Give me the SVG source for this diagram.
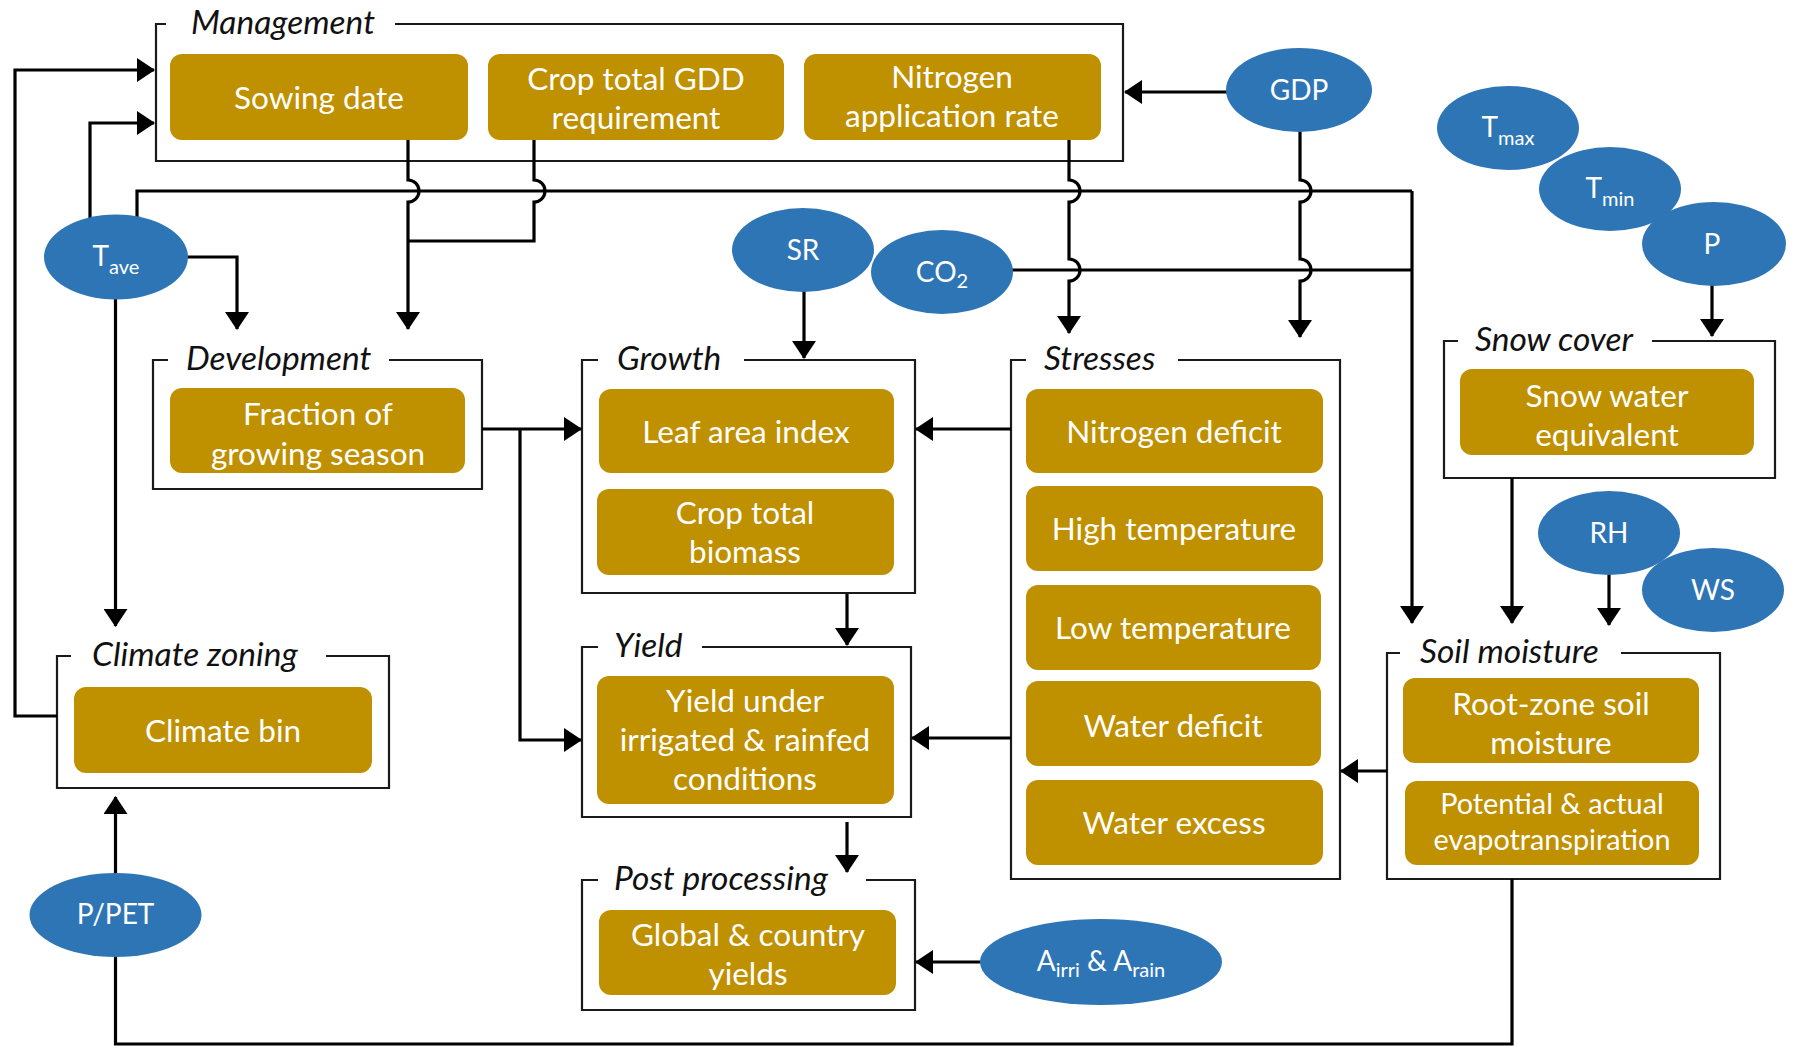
<svg xmlns="http://www.w3.org/2000/svg" width="1793" height="1046" viewBox="0 0 1793 1046">
<defs>
<marker id="ah" viewBox="0 0 18 24" markerWidth="18" markerHeight="24" refX="17" refY="12" orient="auto" markerUnits="userSpaceOnUse">
<path d="M0,0 L18,12 L0,24 z" fill="#000"/>
</marker>
<style>
.grp{fill:none;stroke:#1a1a1a;stroke-width:2.2}
.ttl{font-family:Lato,"Open Sans",sans-serif;font-style:italic;font-size:33.5px;fill:#111}
.box{fill:#BF9000}
.bt{font-family:Lato,"Open Sans",sans-serif;font-size:31.5px;fill:#fff;text-anchor:middle}
.bts{font-family:Lato,"Open Sans",sans-serif;font-size:28.8px;fill:#fff;text-anchor:middle}
.ell{fill:#2E75B6}
.et{font-family:Lato,"Open Sans",sans-serif;font-size:28px;fill:#fff;text-anchor:middle}
.sub{font-size:20px}
.con path{fill:none;stroke:#000;stroke-width:3.2;marker-end:url(#ah)}
.con path.nm{marker-end:none}
</style>
</defs>
<rect width="1793" height="1046" fill="#fff"/>

<!-- Group containers -->
<g id="management">
<path class="grp" d="M395,24 H1123 V161 H156 V24 H166"/>
<text class="ttl" x="191" y="34">Management</text>
<rect class="box" x="170" y="54" width="298" height="86" rx="12"/>
<text class="bt" x="319" y="109">Sowing date</text>
<rect class="box" x="488" y="54" width="296" height="86" rx="12"/>
<text class="bt" x="636" y="90">Crop total GDD</text>
<text class="bt" x="636" y="129">requirement</text>
<rect class="box" x="804" y="54" width="297" height="86" rx="12"/>
<text class="bt" x="952" y="88">Nitrogen</text>
<text class="bt" x="952" y="127">application rate</text>
</g>

<g id="development">
<path class="grp" d="M389,360 H482 V489 H153 V360 H168"/>
<text class="ttl" x="186" y="370">Development</text>
<rect class="box" x="170" y="388" width="295" height="85" rx="12"/>
<text class="bt" x="318" y="425">Fraction of</text>
<text class="bt" x="318" y="465">growing season</text>
</g>

<g id="climate-zoning">
<path class="grp" d="M326,656 H389 V788 H57 V656 H71"/>
<text class="ttl" x="92" y="666">Climate zoning</text>
<rect class="box" x="74" y="687" width="298" height="86" rx="12"/>
<text class="bt" x="223" y="742">Climate bin</text>
</g>

<g id="growth">
<path class="grp" d="M744,360 H915 V593 H582 V360 H598"/>
<text class="ttl" x="617" y="370">Growth</text>
<rect class="box" x="599" y="389" width="295" height="84" rx="12"/>
<text class="bt" x="746" y="443">Leaf area index</text>
<rect class="box" x="597" y="489" width="297" height="86" rx="12"/>
<text class="bt" x="745" y="524">Crop total</text>
<text class="bt" x="745" y="563">biomass</text>
</g>

<g id="yield">
<path class="grp" d="M702,647 H911 V817 H582 V647 H598"/>
<text class="ttl" x="614" y="657">Yield</text>
<rect class="box" x="597" y="676" width="297" height="128" rx="12"/>
<text class="bt" x="745" y="712">Yield under</text>
<text class="bt" x="745" y="751">irrigated &amp; rainfed</text>
<text class="bt" x="745" y="790">conditions</text>
</g>

<g id="post-processing">
<path class="grp" d="M866,880 H915 V1010 H582 V880 H598"/>
<text class="ttl" x="614" y="890">Post processing</text>
<rect class="box" x="599" y="910" width="297" height="85" rx="12"/>
<text class="bt" x="748" y="946">Global &amp; country</text>
<text class="bt" x="748" y="985">yields</text>
</g>

<g id="stresses">
<path class="grp" d="M1178,360 H1340 V879 H1011 V360 H1026"/>
<text class="ttl" x="1044" y="370">Stresses</text>
<rect class="box" x="1026" y="389" width="297" height="84" rx="12"/>
<text class="bt" x="1174" y="443">Nitrogen deficit</text>
<rect class="box" x="1026" y="486" width="297" height="85" rx="12"/>
<text class="bt" x="1174" y="540">High temperature</text>
<rect class="box" x="1026" y="585" width="295" height="85" rx="12"/>
<text class="bt" x="1173" y="639">Low temperature</text>
<rect class="box" x="1026" y="681" width="295" height="85" rx="12"/>
<text class="bt" x="1173" y="737">Water deficit</text>
<rect class="box" x="1026" y="780" width="297" height="85" rx="12"/>
<text class="bt" x="1174" y="834">Water excess</text>
</g>

<g id="snow-cover">
<path class="grp" d="M1652,341 H1775 V478 H1444 V341 H1458"/>
<text class="ttl" x="1475" y="351">Snow cover</text>
<rect class="box" x="1460" y="369" width="294" height="86" rx="12"/>
<text class="bt" x="1607" y="407">Snow water</text>
<text class="bt" x="1607" y="446">equivalent</text>
</g>

<g id="soil-moisture">
<path class="grp" d="M1621,653 H1720 V879 H1387 V653 H1400"/>
<text class="ttl" x="1420" y="663">Soil moisture</text>
<rect class="box" x="1403" y="678" width="296" height="85" rx="12"/>
<text class="bt" x="1551" y="715">Root-zone soil</text>
<text class="bt" x="1551" y="754">moisture</text>
<rect class="box" x="1405" y="781" width="294" height="84" rx="12"/>
<text class="bts" x="1552" y="814">Potential &amp; actual</text>
<text class="bts" x="1552" y="850">evapotranspiration</text>
</g>

<!-- Connectors -->
<g id="connectors" class="con">
<path d="M1260,92 H1125"/>
<path d="M90,240 V123 H154"/>
<path d="M57,716 H15 V70 H154"/>
<path class="nm" d="M137,240 V191 H1412"/>
<path d="M1412,191 V623"/>
<path d="M408,140 V180 A11,11 0 0 1 408,202 V329"/>
<path class="nm" d="M534,140 V180 A11,11 0 0 1 534,202 V241 H408"/>
<path d="M150,257 H237 V329"/>
<path d="M115.5,270 V626"/>
<path d="M1069,140 V180 A11,11 0 0 1 1069,202 V259 A11,11 0 0 1 1069,281 V333"/>
<path d="M1300,120 V180 A11,11 0 0 1 1300,202 V259 A11,11 0 0 1 1300,281 V337"/>
<path class="nm" d="M960,270 H1412"/>
<path d="M804,260 V358"/>
<path d="M1712,260 V336"/>
<path d="M1512,478 V623"/>
<path d="M1609,550 V625"/>
<path d="M482,429 H581"/>
<path d="M520,429 V740 H581"/>
<path d="M1011,429 H916"/>
<path d="M1011,738 H912"/>
<path d="M847,594 V645"/>
<path d="M847,822 V872"/>
<path d="M1050,962 H916"/>
<path d="M1387,771 H1341"/>
<path d="M1512,879 V1044 H115.5 V797"/>
</g>

<!-- Input variable nodes -->
<g id="gdp"><ellipse class="ell" cx="1299" cy="90" rx="73" ry="42"/><text class="et" x="1299" y="100">GDP</text></g>
<g id="tmax"><ellipse class="ell" cx="1508" cy="128" rx="71" ry="42"/><text class="et" x="1508" y="137">T<tspan class="sub" dy="8">max</tspan></text></g>
<g id="tmin"><ellipse class="ell" cx="1610" cy="189" rx="71" ry="42"/><text class="et" x="1610" y="198">T<tspan class="sub" dy="8">min</tspan></text></g>
<g id="p"><ellipse class="ell" cx="1714" cy="244" rx="72" ry="42"/><text class="et" x="1712" y="254">P</text></g>
<g id="rh"><ellipse class="ell" cx="1609" cy="533" rx="71" ry="42"/><text class="et" x="1609" y="543">RH</text></g>
<g id="ws"><ellipse class="ell" cx="1713" cy="590" rx="71" ry="42"/><text class="et" x="1713" y="600">WS</text></g>
<g id="tave"><ellipse class="ell" cx="116" cy="257" rx="72" ry="42.5"/><text class="et" x="116" y="266">T<tspan class="sub" dy="8">ave</tspan></text></g>
<g id="sr"><ellipse class="ell" cx="803" cy="250" rx="71" ry="42"/><text class="et" x="803" y="260">SR</text></g>
<g id="co2"><ellipse class="ell" cx="942" cy="272" rx="71" ry="42"/><text class="et" x="942" y="282">CO<tspan class="sub" dy="6">2</tspan></text></g>
<g id="ppet"><ellipse class="ell" cx="115.5" cy="915" rx="86" ry="42"/><text class="et" x="115.5" y="924" font-size="25">P/PET</text></g>
<g id="area"><ellipse class="ell" cx="1101" cy="962" rx="121" ry="43"/><text class="et" x="1101" y="971" font-size="26">A<tspan class="sub" dy="6" font-size="18">irri</tspan><tspan dy="-6"> &amp; A</tspan><tspan class="sub" dy="6" font-size="18">rain</tspan></text></g>
</svg>
